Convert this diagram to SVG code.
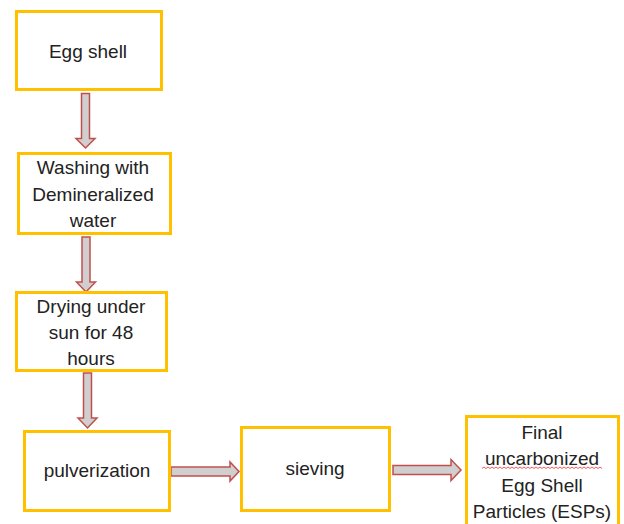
<svg xmlns="http://www.w3.org/2000/svg" width="624" height="524" viewBox="0 0 624 524">
<style>
.box{fill:#fff;stroke:#FFC000;stroke-width:3}
.t{font-family:"Liberation Sans",Arial,sans-serif;font-size:19px;fill:#222;text-anchor:middle}
.arr{fill:#D0CECE;stroke:#C0504D;stroke-width:1.5;stroke-linejoin:miter}
</style>
<rect width="624" height="524" fill="#fff"/>
<g id="connectors">
<path class="arr" d="M81.5,93.5 H89.5 V138.5 H95 L85.5,148 L76,138.5 H81.5 Z"/>
<path class="arr" d="M82,237 H90 V282 H95.5 L86,292 L76.5,282 H82 Z"/>
<path class="arr" d="M83.5,373 H91.5 V418 H97 L87.5,428 L78,418 H83.5 Z"/>
<path class="arr" d="M171,467 H230 V462 L239,471.5 L230,481 V476 H171 Z"/>
<path class="arr" d="M393,465.5 H451 V459.5 L461,470 L451,480.5 V474.5 H393 Z"/>
</g>
<g id="n1">
<rect class="box" x="16.5" y="11.5" width="145" height="78"/>
<text class="t" x="88" y="58">Egg shell</text>
</g>
<g id="n2">
<rect class="box" x="18.5" y="153.5" width="152" height="80"/>
<text class="t" x="93" y="174">Washing with</text>
<text class="t" x="93" y="201">Demineralized</text>
<text class="t" x="93" y="227">water</text>
</g>
<g id="n3">
<rect class="box" x="16.5" y="292.5" width="150" height="78"/>
<text class="t" x="91" y="313">Drying under</text>
<text class="t" x="91" y="339">sun for 48</text>
<text class="t" x="91" y="365">hours</text>
</g>
<g id="n4">
<rect class="box" x="24.5" y="431.5" width="145" height="79"/>
<text class="t" x="97" y="477">pulverization</text>
</g>
<g id="n5">
<rect class="box" x="241.5" y="427.5" width="148" height="83"/>
<text class="t" x="315" y="475">sieving</text>
</g>
<g id="n6">
<rect class="box" x="466.5" y="416.5" width="152" height="120"/>
<text class="t" x="542" y="439">Final</text>
<text class="t" x="542" y="465">uncarbonized</text>
<text class="t" x="542" y="492">Egg Shell</text>
<text class="t" x="542" y="518">Particles (ESPs)</text>
<path d="M482,468.5 l2,-1.5 l2,1.5 l2,-1.5 l2,1.5 l2,-1.5 l2,1.5 l2,-1.5 l2,1.5 l2,-1.5 l2,1.5 l2,-1.5 l2,1.5 l2,-1.5 l2,1.5 l2,-1.5 l2,1.5 l2,-1.5 l2,1.5 l2,-1.5 l2,1.5 l2,-1.5 l2,1.5 l2,-1.5 l2,1.5 l2,-1.5 l2,1.5 l2,-1.5 l2,1.5 l2,-1.5 l2,1.5 l2,-1.5 l2,1.5 l2,-1.5 l2,1.5 l2,-1.5 l2,1.5 l2,-1.5 l2,1.5 l2,-1.5 l2,1.5 l2,-1.5 l2,1.5 l2,-1.5 l2,1.5 l2,-1.5 l2,1.5 l2,-1.5 l2,1.5 l2,-1.5 l2,1.5 l2,-1.5 l2,1.5 l2,-1.5 l2,1.5 l2,-1.5 l2,1.5 l2,-1.5 l2,1.5 l2,-1.5 l2,1.5" fill="none" stroke="#E33" stroke-width="0.8"/>
</g>
</svg>
